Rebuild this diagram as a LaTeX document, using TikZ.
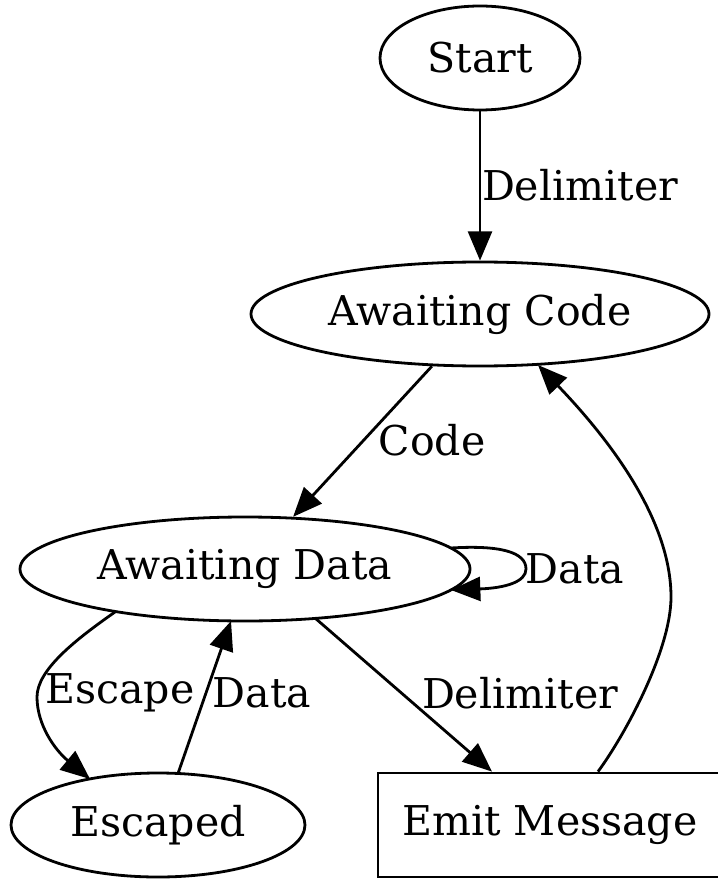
\documentclass[tikz,border=0pt]{standalone}
\usepackage{fontspec}
\setmainfont{DejaVu Serif}
\usetikzlibrary{shapes.geometric,arrows.meta,calc}
\begin{document}
\begin{tikzpicture}[x=0.75pt,y=-0.75pt,
  every node/.style={font=\fontsize{30.8}{36}\selectfont},
  st/.style={draw,ellipse,line width=2.1pt,inner sep=0pt,minimum height=78pt},
  bx/.style={draw,rectangle,line width=2.1pt,inner sep=0pt,minimum height=78pt},
  lbl/.style={inner sep=0pt},
  edge/.style={line width=2.1pt,-{Triangle[length=22pt,width=18pt]}}]
\useasboundingbox (0,0) rectangle (717,880);
\node[st,minimum width=150pt] (start) at (480,58) {Start};
\node[st,minimum width=343.5pt] (ac) at (480,314) {Awaiting Code};
\node[st,minimum width=337.5pt] (ad) at (245,569) {Awaiting Data};
\node[st,minimum width=220.5pt] (esc) at (158,825) {Escaped};
\node[bx,minimum width=258pt] (emit) at (550,825) {Emit Message};

\node[lbl] (l1) at (580,185) {Delimiter};
\node[lbl] (l2) at (432,440) {Code};
\node[lbl] (l3) at (575,569) {Data};
\node[lbl] (l4) at (120,693) {Escape};
\node[lbl] (l5) at (262,693) {Data};
\node[lbl] (l6) at (520,693) {Delimiter};

\draw[edge] (start) -- (ac);
\draw[edge] (ac) -- (ad);
\draw[edge] ($(ad.center)+(206,-21)$) .. controls (500,545) and (526,552) .. (526,569)
  .. controls (526,582) and (505,588) .. ($(ad.center)+(206,21)$);
\draw[edge] ($(ad.center)+(-130,43)$) .. controls (75,640) and (37,670) .. (37,697)
  .. controls (37,725) and (55,750) .. ($(esc.center)+(-68,-46)$);
\draw[edge] ($(esc.center)+(20,-51.5)$) -- ($(ad.center)+(-14,52)$);
\draw[edge] ($(ad.center)+(70,49)$) -- ($(emit.north)+(-58,0)$);
\draw[edge] ($(emit.north)+(48,0)$) .. controls (625,735) and (671,650) .. (671,597)
  .. controls (671,520) and (610,440) .. ($(ac.center)+(58,51)$);
\end{tikzpicture}
\end{document}
